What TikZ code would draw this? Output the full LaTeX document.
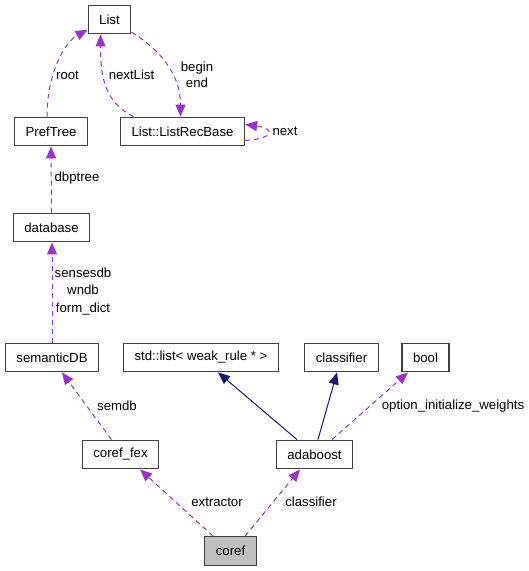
\documentclass[tikz,border=0pt]{standalone}
\usepackage{fontspec}
\setmainfont{Liberation Sans}
\usepackage{xcolor}
\usepackage{tikz}
\usetikzlibrary{arrows.meta}

\definecolor{usepurple}{HTML}{9A32CD}
\definecolor{inhblue}{HTML}{191970}

\begin{document}
\begin{tikzpicture}[x=1pt, y=-1pt,
    cls/.style={draw=black!75, line width=1.3pt, fill=white, minimum height=28.5pt, inner xsep=11pt, inner ysep=2pt, font=\fontsize{13.2}{16}\selectfont},
    usage/.style={draw=usepurple, line width=1pt, dash pattern=on 5pt off 4pt, -{Triangle[length=12pt,width=10pt]}},
    inherit/.style={draw=inhblue, line width=1pt, -{Triangle[length=12pt,width=10pt]}},
    lbl/.style={text=black, font=\fontsize{13.2}{16.5}\selectfont, align=center, inner sep=0pt}]
    \useasboundingbox (0,0) rectangle (529,571);

    % Classes
    \node[cls] (list) at (109.5,19.5) {List};
    \node[cls] (preftree) at (51,131.5) {PrefTree};
    \node[cls] (recbase) at (182.5,131.5) {List::ListRecBase};
    \node[cls] (database) at (51.5,227.5) {database};
    \node[cls] (semdb) at (52,357.5) {semanticDB};
    \node[cls] (stdlist) at (201,357.5) {std::list< weak\_rule * >};
    \node[cls] (classif) at (341.5,357.5) {classifier};
    \node[cls] (boolt) at (425.5,357.5) {bool};
    \node[cls] (fex) at (120.5,454.5) {coref\_fex};
    \node[cls] (adaboost) at (314.5,454.5) {adaboost};
    \node[cls, fill=gray!50] (coref) at (230.5,551) {coref};

    % Members (usage)
    \draw[usage] ([xshift=-4pt]preftree.north) .. controls +(0,-45) and +(-22,12) .. (list.205) node[lbl, at={(67.5,75)}] {root};
    \draw[usage] ([xshift=-49pt]recbase.north) .. controls +(-30,-15) and +(0,40) .. ([xshift=-9pt]list.south) node[lbl, at={(131.5,75)}] {nextList};
    \draw[usage] (list.330) .. controls +(25,15) and +(0,-45) .. ([xshift=-2pt]recbase.north) node[lbl, at={(197,75)}] {begin\\end};
    \draw[usage] ([yshift=-9pt]recbase.east) .. controls +(30,-2) and +(30,4) .. ([yshift=7pt]recbase.east) node[lbl, at={(285,131)}] {next};
    \draw[usage] (database.north) -- (preftree.south) node[lbl, at={(77,178)}] {dbptree};
    \draw[usage] (semdb.north) -- (semdb.north |- database.south) node[lbl, font=\fontsize{13.2}{17.5}\selectfont, at={(83,291.5)}] {sensesdb\\wndb\\form\_dict};
    \draw[usage] ([xshift=-9pt]fex.north) -- ([xshift=10pt]semdb.south) node[lbl, at={(117,406)}] {semdb};
    \draw[usage] ([xshift=17.5pt]adaboost.north) -- ([xshift=-17.5pt]boolt.south) node[lbl, at={(453,406)}] {option\_initialize\_weights};
    \draw[usage] ([xshift=-17.5pt]coref.north) -- ([xshift=19.5pt]fex.south) node[lbl, at={(217,502)}] {extractor};
    \draw[usage] ([xshift=14.5pt]coref.north) -- ([xshift=-14.5pt]adaboost.south) node[lbl, at={(311,502)}] {classifier};

    % Base classes
    \draw[inherit] ([xshift=-17.5pt]adaboost.north) -- ([xshift=17pt]stdlist.south);
    \draw[inherit] ([xshift=3.5pt]adaboost.north) -- ([xshift=-4.5pt]classif.south);
\end{tikzpicture}
\end{document}
